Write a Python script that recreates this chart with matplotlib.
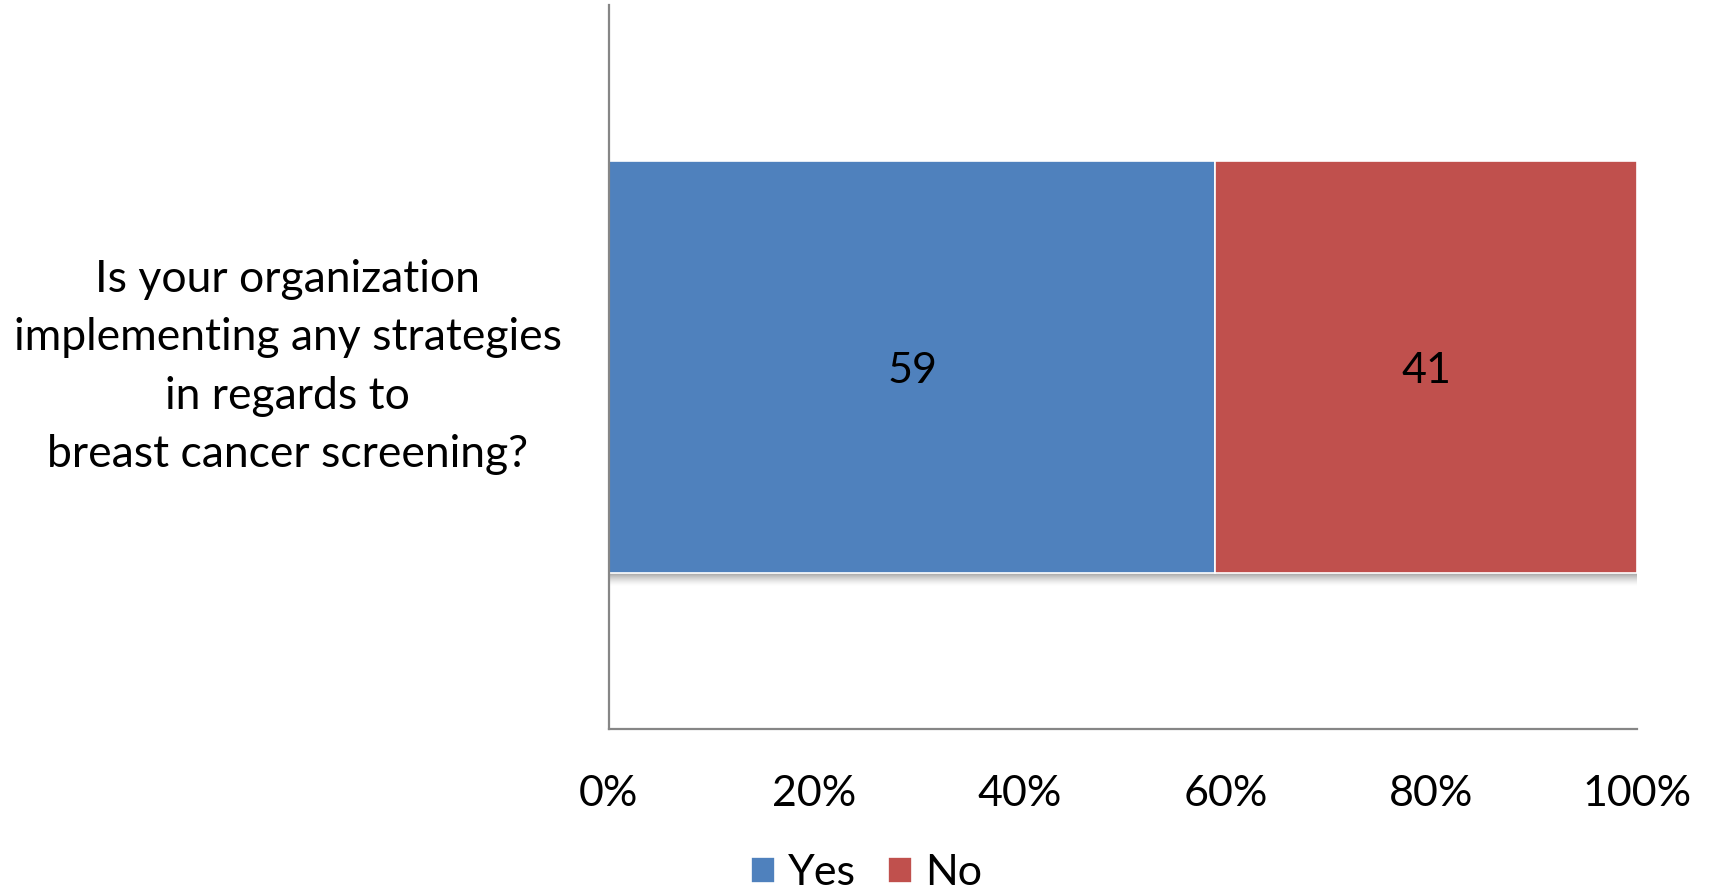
import matplotlib.pyplot as plt
import numpy as np

plt.rcParams['font.family'] = ['Lato', 'DejaVu Sans']

question = ("Is your organization\nimplementing any strategies\n"
            "in regards to\nbreast cancer screening?")
answers = ['Yes', 'No']
shares = [59, 41]
colors = ['#4F81BD', '#C0504D']
x_ticks = [0, 20, 40, 60, 80, 100]

fig = plt.figure(figsize=(17.09, 8.91), dpi=100)
ax = fig.add_axes([0.3562, 0.1818, 0.6017, 0.8126])

bar_h = 0.57
px = 1.0 / 724  # one pixel in y data units

# soft drop shadow under the stacked bar
for i in range(13):
    ax.barh(0 - bar_h / 2 - (i + 0.5) * px, 100, height=px, left=0,
            color='black', alpha=0.35 * (1 - i / 13) ** 1.5, linewidth=0, zorder=1)

left = 0
for name, val, c in zip(answers, shares, colors):
    ax.barh(0, val, height=bar_h, left=left, color=c, edgecolor='white',
            linewidth=1.2, label=name, zorder=2)
    ax.text(left + val / 2, 0, str(val), ha='center', va='center_baseline',
            fontsize=31, color='black', zorder=3)
    left += val

ax.set_xlim(0, 100)
ax.set_ylim(-0.5, 0.5)
ax.set_xticks(x_ticks)
ax.set_xticklabels([f'{t}%' for t in x_ticks])
ax.set_yticks([0])
ax.set_yticklabels([question])
for lbl in ax.get_yticklabels():
    lbl.set_ha('center')
    lbl.set_va('center')
    lbl.set_multialignment('center')
    lbl.set_linespacing(1.52)

ax.tick_params(axis='x', length=0, pad=33, labelsize=31)
ax.tick_params(axis='y', length=0, pad=231, labelsize=32)

for side in ['top', 'right']:
    ax.spines[side].set_visible(False)
for side in ['left', 'bottom']:
    ax.spines[side].set_color('#868686')
    ax.spines[side].set_linewidth(1.6)

fig.legend(loc='center', bbox_to_anchor=(0.507, 0.02), ncol=2, frameon=False,
           fontsize=31, handlelength=0.55, handleheight=0.55, handletextpad=0.3,
           columnspacing=0.75, borderpad=0)

fig.savefig('out.png', dpi=100)
